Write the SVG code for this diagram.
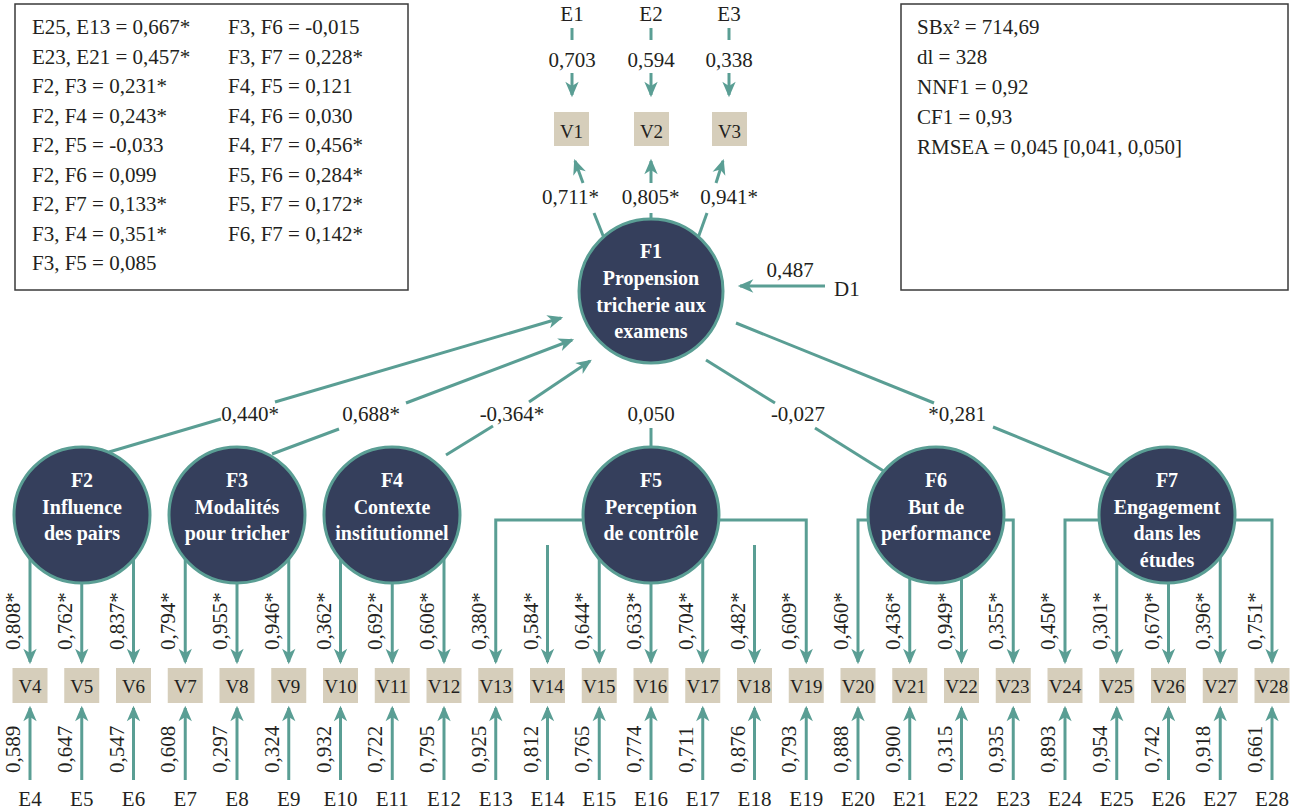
<svg xmlns="http://www.w3.org/2000/svg" width="1292" height="811" viewBox="0 0 1292 811" font-family="'Liberation Serif', serif">
<defs>
<style>
.ln{stroke:#5a9e94;stroke-width:3;fill:none}
.ar{marker-end:url(#ah)}
.t{font-family:'Liberation Serif', serif;font-size:21px;fill:#231f20}
.c{text-anchor:middle}
.ft{font-family:'Liberation Serif', serif;font-size:20px;font-weight:bold;fill:#ffffff;text-anchor:middle}
.box{fill:#d6cebb}
.vt{font-family:'Liberation Serif', serif;font-size:19px;fill:#231f20;text-anchor:middle}
.circ{fill:#353f5c;stroke:#5a9e94;stroke-width:3}
.frame{fill:#ffffff;stroke:#3a3a3a;stroke-width:1.5}
</style>
<marker id="ah" markerUnits="userSpaceOnUse" markerWidth="20" markerHeight="20" viewBox="-14 -8 18 16" refX="0" refY="0" orient="auto">
<path d="M2,0 L-12,-6 L-8,0 L-12,6 Z" fill="#5a9e94"/>
</marker>
</defs>
<rect width="1292" height="811" fill="#ffffff"/>

<g id="stats-correlations">
<rect class="frame" x="15" y="4" width="393" height="286"/>
<text class="t" x="32" y="34">E25, E13 = 0,667*</text>
<text class="t" x="32" y="63.5">E23, E21 = 0,457*</text>
<text class="t" x="32" y="93">F2, F3 = 0,231*</text>
<text class="t" x="32" y="122.5">F2, F4 = 0,243*</text>
<text class="t" x="32" y="152">F2, F5 = -0,033</text>
<text class="t" x="32" y="181.5">F2, F6 = 0,099</text>
<text class="t" x="32" y="211">F2, F7 = 0,133*</text>
<text class="t" x="32" y="240.5">F3, F4 = 0,351*</text>
<text class="t" x="32" y="270">F3, F5 = 0,085</text>
<text class="t" x="228" y="34">F3, F6 = -0,015</text>
<text class="t" x="228" y="63.5">F3, F7 = 0,228*</text>
<text class="t" x="228" y="93">F4, F5 = 0,121</text>
<text class="t" x="228" y="122.5">F4, F6 = 0,030</text>
<text class="t" x="228" y="152">F4, F7 = 0,456*</text>
<text class="t" x="228" y="181.5">F5, F6 = 0,284*</text>
<text class="t" x="228" y="211">F5, F7 = 0,172*</text>
<text class="t" x="228" y="240.5">F6, F7 = 0,142*</text>
</g>

<g id="stats-fit">
<rect class="frame" x="901" y="4" width="387" height="286"/>
<text class="t" x="917" y="34">SBx² = 714,69</text>
<text class="t" x="917" y="64">dl = 328</text>
<text class="t" x="917" y="94">NNF1 = 0,92</text>
<text class="t" x="917" y="124">CF1 = 0,93</text>
<text class="t" x="917" y="154">RMSEA = 0,045 [0,041, 0,050]</text>
</g>

<g id="connectors">
<line class="ln" x1="572" y1="28" x2="572" y2="40"/>
<line class="ln ar" x1="572" y1="73" x2="572" y2="95"/>
<line class="ln" x1="651" y1="28" x2="651" y2="40"/>
<line class="ln ar" x1="651" y1="73" x2="651" y2="95"/>
<line class="ln" x1="729" y1="28" x2="729" y2="40"/>
<line class="ln ar" x1="729" y1="73" x2="729" y2="95"/>
<line class="ln" x1="604" y1="238" x2="594" y2="213"/>
<line class="ln ar" x1="583" y1="183" x2="575" y2="161"/>
<line class="ln" x1="651" y1="225" x2="651" y2="213"/>
<line class="ln ar" x1="651" y1="183" x2="651" y2="161"/>
<line class="ln" x1="698" y1="238" x2="707" y2="213"/>
<line class="ln ar" x1="716" y1="183" x2="723" y2="161"/>
<line class="ln ar" x1="825" y1="286" x2="740" y2="286"/>
<line class="ln" x1="109" y1="452" x2="221" y2="419"/>
<line class="ln ar" x1="275" y1="402" x2="561" y2="318"/>
<line class="ln" x1="272" y1="454" x2="339" y2="429"/>
<line class="ln ar" x1="406" y1="403" x2="572" y2="340"/>
<line class="ln" x1="446" y1="455" x2="493" y2="426"/>
<line class="ln ar" x1="529" y1="402" x2="590" y2="361"/>
<line class="ln" x1="651" y1="428" x2="651" y2="449"/>
<line class="ln" x1="706" y1="360" x2="775" y2="403"/>
<line class="ln" x1="815" y1="428" x2="890" y2="475"/>
<line class="ln" x1="736" y1="323" x2="934" y2="403"/>
<line class="ln" x1="993" y1="427" x2="1115" y2="477"/>
<line class="ln ar" x1="30" y1="515" x2="30" y2="662"/>
<line class="ln ar" x1="81.75" y1="515" x2="81.75" y2="662"/>
<line class="ln ar" x1="133.5" y1="515" x2="133.5" y2="662"/>
<line class="ln ar" x1="185.25" y1="515" x2="185.25" y2="662"/>
<line class="ln ar" x1="237" y1="515" x2="237" y2="662"/>
<line class="ln ar" x1="288.75" y1="515" x2="288.75" y2="662"/>
<line class="ln ar" x1="340.5" y1="515" x2="340.5" y2="662"/>
<line class="ln ar" x1="392.25" y1="515" x2="392.25" y2="662"/>
<line class="ln ar" x1="444" y1="515" x2="444" y2="662"/>
<path class="ln ar" d="M620,520 H495.75 V662"/>
<line class="ln ar" x1="547.5" y1="545" x2="547.5" y2="662"/>
<line class="ln ar" x1="599.25" y1="515" x2="599.25" y2="662"/>
<line class="ln ar" x1="651" y1="515" x2="651" y2="662"/>
<line class="ln ar" x1="702.75" y1="515" x2="702.75" y2="662"/>
<line class="ln ar" x1="754.5" y1="545" x2="754.5" y2="662"/>
<path class="ln ar" d="M680,520 H806.25 V662"/>
<path class="ln ar" d="M900,520 H858 V662"/>
<line class="ln ar" x1="909.75" y1="515" x2="909.75" y2="662"/>
<line class="ln ar" x1="961.5" y1="515" x2="961.5" y2="662"/>
<path class="ln ar" d="M970,520 H1013.25 V662"/>
<path class="ln ar" d="M1130,520 H1065 V662"/>
<line class="ln ar" x1="1116.75" y1="515" x2="1116.75" y2="662"/>
<line class="ln ar" x1="1168.5" y1="515" x2="1168.5" y2="662"/>
<line class="ln ar" x1="1220.25" y1="515" x2="1220.25" y2="662"/>
<path class="ln ar" d="M1200,520 H1272 V662"/>
<line class="ln ar" x1="30" y1="780" x2="30" y2="708"/>
<line class="ln ar" x1="81.75" y1="780" x2="81.75" y2="708"/>
<line class="ln ar" x1="133.5" y1="780" x2="133.5" y2="708"/>
<line class="ln ar" x1="185.25" y1="780" x2="185.25" y2="708"/>
<line class="ln ar" x1="237" y1="780" x2="237" y2="708"/>
<line class="ln ar" x1="288.75" y1="780" x2="288.75" y2="708"/>
<line class="ln ar" x1="340.5" y1="780" x2="340.5" y2="708"/>
<line class="ln ar" x1="392.25" y1="780" x2="392.25" y2="708"/>
<line class="ln ar" x1="444" y1="780" x2="444" y2="708"/>
<line class="ln ar" x1="495.75" y1="780" x2="495.75" y2="708"/>
<line class="ln ar" x1="547.5" y1="780" x2="547.5" y2="708"/>
<line class="ln ar" x1="599.25" y1="780" x2="599.25" y2="708"/>
<line class="ln ar" x1="651" y1="780" x2="651" y2="708"/>
<line class="ln ar" x1="702.75" y1="780" x2="702.75" y2="708"/>
<line class="ln ar" x1="754.5" y1="780" x2="754.5" y2="708"/>
<line class="ln ar" x1="806.25" y1="780" x2="806.25" y2="708"/>
<line class="ln ar" x1="858" y1="780" x2="858" y2="708"/>
<line class="ln ar" x1="909.75" y1="780" x2="909.75" y2="708"/>
<line class="ln ar" x1="961.5" y1="780" x2="961.5" y2="708"/>
<line class="ln ar" x1="1013.25" y1="780" x2="1013.25" y2="708"/>
<line class="ln ar" x1="1065" y1="780" x2="1065" y2="708"/>
<line class="ln ar" x1="1116.75" y1="780" x2="1116.75" y2="708"/>
<line class="ln ar" x1="1168.5" y1="780" x2="1168.5" y2="708"/>
<line class="ln ar" x1="1220.25" y1="780" x2="1220.25" y2="708"/>
<line class="ln ar" x1="1272" y1="780" x2="1272" y2="708"/>
</g>

<g id="connector-labels">
<text class="t c" x="572" y="67">0,703</text>
<text class="t c" x="651" y="67">0,594</text>
<text class="t c" x="729" y="67">0,338</text>
<text class="t c" x="570.5" y="204">0,711*</text>
<text class="t c" x="650.5" y="204">0,805*</text>
<text class="t c" x="729" y="204">0,941*</text>
<text class="t c" x="790" y="277">0,487</text>
<text class="t c" x="250" y="421">0,440*</text>
<text class="t c" x="371" y="421">0,688*</text>
<text class="t c" x="512" y="421">-0,364*</text>
<text class="t c" x="651" y="421">0,050</text>
<text class="t c" x="798" y="421">-0,027</text>
<text class="t c" x="957" y="421">*0,281</text>
<text class="t" transform="translate(20,650) rotate(-90)">0,808*</text>
<text class="t" transform="translate(71.75,650) rotate(-90)">0,762*</text>
<text class="t" transform="translate(123.5,650) rotate(-90)">0,837*</text>
<text class="t" transform="translate(175.25,650) rotate(-90)">0,794*</text>
<text class="t" transform="translate(227,650) rotate(-90)">0,955*</text>
<text class="t" transform="translate(278.75,650) rotate(-90)">0,946*</text>
<text class="t" transform="translate(330.5,650) rotate(-90)">0,362*</text>
<text class="t" transform="translate(382.25,650) rotate(-90)">0,692*</text>
<text class="t" transform="translate(434,650) rotate(-90)">0,606*</text>
<text class="t" transform="translate(485.75,650) rotate(-90)">0,380*</text>
<text class="t" transform="translate(537.5,650) rotate(-90)">0,584*</text>
<text class="t" transform="translate(589.25,650) rotate(-90)">0,644*</text>
<text class="t" transform="translate(641,650) rotate(-90)">0,633*</text>
<text class="t" transform="translate(692.75,650) rotate(-90)">0,704*</text>
<text class="t" transform="translate(744.5,650) rotate(-90)">0,482*</text>
<text class="t" transform="translate(796.25,650) rotate(-90)">0,609*</text>
<text class="t" transform="translate(848,650) rotate(-90)">0,460*</text>
<text class="t" transform="translate(899.75,650) rotate(-90)">0,436*</text>
<text class="t" transform="translate(951.5,650) rotate(-90)">0,949*</text>
<text class="t" transform="translate(1003.25,650) rotate(-90)">0,355*</text>
<text class="t" transform="translate(1055,650) rotate(-90)">0,450*</text>
<text class="t" transform="translate(1106.75,650) rotate(-90)">0,301*</text>
<text class="t" transform="translate(1158.5,650) rotate(-90)">0,670*</text>
<text class="t" transform="translate(1210.25,650) rotate(-90)">0,396*</text>
<text class="t" transform="translate(1262,650) rotate(-90)">0,751*</text>
<text class="t" transform="translate(20,773) rotate(-90)">0,589</text>
<text class="t" transform="translate(71.75,773) rotate(-90)">0,647</text>
<text class="t" transform="translate(123.5,773) rotate(-90)">0,547</text>
<text class="t" transform="translate(175.25,773) rotate(-90)">0,608</text>
<text class="t" transform="translate(227,773) rotate(-90)">0,297</text>
<text class="t" transform="translate(278.75,773) rotate(-90)">0,324</text>
<text class="t" transform="translate(330.5,773) rotate(-90)">0,932</text>
<text class="t" transform="translate(382.25,773) rotate(-90)">0,722</text>
<text class="t" transform="translate(434,773) rotate(-90)">0,795</text>
<text class="t" transform="translate(485.75,773) rotate(-90)">0,925</text>
<text class="t" transform="translate(537.5,773) rotate(-90)">0,812</text>
<text class="t" transform="translate(589.25,773) rotate(-90)">0,765</text>
<text class="t" transform="translate(641,773) rotate(-90)">0,774</text>
<text class="t" transform="translate(692.75,773) rotate(-90)">0,711</text>
<text class="t" transform="translate(744.5,773) rotate(-90)">0,876</text>
<text class="t" transform="translate(796.25,773) rotate(-90)">0,793</text>
<text class="t" transform="translate(848,773) rotate(-90)">0,888</text>
<text class="t" transform="translate(899.75,773) rotate(-90)">0,900</text>
<text class="t" transform="translate(951.5,773) rotate(-90)">0,315</text>
<text class="t" transform="translate(1003.25,773) rotate(-90)">0,935</text>
<text class="t" transform="translate(1055,773) rotate(-90)">0,893</text>
<text class="t" transform="translate(1106.75,773) rotate(-90)">0,954</text>
<text class="t" transform="translate(1158.5,773) rotate(-90)">0,742</text>
<text class="t" transform="translate(1210.25,773) rotate(-90)">0,918</text>
<text class="t" transform="translate(1262,773) rotate(-90)">0,661</text>
</g>

<g id="F1"><circle class="circ" cx="651" cy="291" r="72"/>
<text class="ft" x="651" y="258">F1</text><text class="ft" x="651" y="285">Propension</text><text class="ft" x="651" y="312">tricherie aux</text><text class="ft" x="651" y="338">examens</text></g>
<g id="F2"><circle class="circ" cx="82" cy="515" r="68"/>
<text class="ft" x="82" y="487">F2</text><text class="ft" x="82" y="514">Influence</text><text class="ft" x="82" y="540">des pairs</text></g>
<g id="F3"><circle class="circ" cx="237" cy="515" r="68"/>
<text class="ft" x="237" y="487">F3</text><text class="ft" x="237" y="514">Modalités</text><text class="ft" x="237" y="540">pour tricher</text></g>
<g id="F4"><circle class="circ" cx="392" cy="515" r="68"/>
<text class="ft" x="392" y="487">F4</text><text class="ft" x="392" y="514">Contexte</text><text class="ft" x="392" y="540">institutionnel</text></g>
<g id="F5"><circle class="circ" cx="651" cy="515" r="68"/>
<text class="ft" x="651" y="487">F5</text><text class="ft" x="651" y="514">Perception</text><text class="ft" x="651" y="540">de contrôle</text></g>
<g id="F6"><circle class="circ" cx="936" cy="515" r="68"/>
<text class="ft" x="936" y="487">F6</text><text class="ft" x="936" y="514">But de</text><text class="ft" x="936" y="540">performance</text></g>
<g id="F7"><circle class="circ" cx="1167" cy="515" r="68"/>
<text class="ft" x="1167" y="487">F7</text><text class="ft" x="1167" y="514">Engagement</text><text class="ft" x="1167" y="540">dans les</text><text class="ft" x="1167" y="567">études</text></g>

<g id="D1"><text class="t" x="834" y="296">D1</text></g>
<g id="E1"><text class="t c" x="572" y="21">E1</text></g>
<g id="E2"><text class="t c" x="651" y="21">E2</text></g>
<g id="E3"><text class="t c" x="729" y="21">E3</text></g>
<g id="V1"><rect class="box" x="554" y="112" width="35" height="34"/><text class="vt" x="571.5" y="138">V1</text></g>
<g id="V2"><rect class="box" x="634" y="112" width="35" height="34"/><text class="vt" x="651.5" y="138">V2</text></g>
<g id="V3"><rect class="box" x="712" y="112" width="35" height="34"/><text class="vt" x="729.5" y="138">V3</text></g>

<g id="V4"><rect class="box" x="12.5" y="668" width="35" height="35"/><text class="vt" x="30" y="693">V4</text></g>
<g id="V5"><rect class="box" x="64.25" y="668" width="35" height="35"/><text class="vt" x="81.75" y="693">V5</text></g>
<g id="V6"><rect class="box" x="116" y="668" width="35" height="35"/><text class="vt" x="133.5" y="693">V6</text></g>
<g id="V7"><rect class="box" x="167.75" y="668" width="35" height="35"/><text class="vt" x="185.25" y="693">V7</text></g>
<g id="V8"><rect class="box" x="219.5" y="668" width="35" height="35"/><text class="vt" x="237" y="693">V8</text></g>
<g id="V9"><rect class="box" x="271.25" y="668" width="35" height="35"/><text class="vt" x="288.75" y="693">V9</text></g>
<g id="V10"><rect class="box" x="323" y="668" width="35" height="35"/><text class="vt" x="340.5" y="693">V10</text></g>
<g id="V11"><rect class="box" x="374.75" y="668" width="35" height="35"/><text class="vt" x="392.25" y="693">V11</text></g>
<g id="V12"><rect class="box" x="426.5" y="668" width="35" height="35"/><text class="vt" x="444" y="693">V12</text></g>
<g id="V13"><rect class="box" x="478.25" y="668" width="35" height="35"/><text class="vt" x="495.75" y="693">V13</text></g>
<g id="V14"><rect class="box" x="530" y="668" width="35" height="35"/><text class="vt" x="547.5" y="693">V14</text></g>
<g id="V15"><rect class="box" x="581.75" y="668" width="35" height="35"/><text class="vt" x="599.25" y="693">V15</text></g>
<g id="V16"><rect class="box" x="633.5" y="668" width="35" height="35"/><text class="vt" x="651" y="693">V16</text></g>
<g id="V17"><rect class="box" x="685.25" y="668" width="35" height="35"/><text class="vt" x="702.75" y="693">V17</text></g>
<g id="V18"><rect class="box" x="737" y="668" width="35" height="35"/><text class="vt" x="754.5" y="693">V18</text></g>
<g id="V19"><rect class="box" x="788.75" y="668" width="35" height="35"/><text class="vt" x="806.25" y="693">V19</text></g>
<g id="V20"><rect class="box" x="840.5" y="668" width="35" height="35"/><text class="vt" x="858" y="693">V20</text></g>
<g id="V21"><rect class="box" x="892.25" y="668" width="35" height="35"/><text class="vt" x="909.75" y="693">V21</text></g>
<g id="V22"><rect class="box" x="944" y="668" width="35" height="35"/><text class="vt" x="961.5" y="693">V22</text></g>
<g id="V23"><rect class="box" x="995.75" y="668" width="35" height="35"/><text class="vt" x="1013.25" y="693">V23</text></g>
<g id="V24"><rect class="box" x="1047.5" y="668" width="35" height="35"/><text class="vt" x="1065" y="693">V24</text></g>
<g id="V25"><rect class="box" x="1099.25" y="668" width="35" height="35"/><text class="vt" x="1116.75" y="693">V25</text></g>
<g id="V26"><rect class="box" x="1151" y="668" width="35" height="35"/><text class="vt" x="1168.5" y="693">V26</text></g>
<g id="V27"><rect class="box" x="1202.75" y="668" width="35" height="35"/><text class="vt" x="1220.25" y="693">V27</text></g>
<g id="V28"><rect class="box" x="1254.5" y="668" width="35" height="35"/><text class="vt" x="1272" y="693">V28</text></g>

<g id="E4"><text class="t c" x="30" y="806">E4</text></g>
<g id="E5"><text class="t c" x="81.75" y="806">E5</text></g>
<g id="E6"><text class="t c" x="133.5" y="806">E6</text></g>
<g id="E7"><text class="t c" x="185.25" y="806">E7</text></g>
<g id="E8"><text class="t c" x="237" y="806">E8</text></g>
<g id="E9"><text class="t c" x="288.75" y="806">E9</text></g>
<g id="E10"><text class="t c" x="340.5" y="806">E10</text></g>
<g id="E11"><text class="t c" x="392.25" y="806">E11</text></g>
<g id="E12"><text class="t c" x="444" y="806">E12</text></g>
<g id="E13"><text class="t c" x="495.75" y="806">E13</text></g>
<g id="E14"><text class="t c" x="547.5" y="806">E14</text></g>
<g id="E15"><text class="t c" x="599.25" y="806">E15</text></g>
<g id="E16"><text class="t c" x="651" y="806">E16</text></g>
<g id="E17"><text class="t c" x="702.75" y="806">E17</text></g>
<g id="E18"><text class="t c" x="754.5" y="806">E18</text></g>
<g id="E19"><text class="t c" x="806.25" y="806">E19</text></g>
<g id="E20"><text class="t c" x="858" y="806">E20</text></g>
<g id="E21"><text class="t c" x="909.75" y="806">E21</text></g>
<g id="E22"><text class="t c" x="961.5" y="806">E22</text></g>
<g id="E23"><text class="t c" x="1013.25" y="806">E23</text></g>
<g id="E24"><text class="t c" x="1065" y="806">E24</text></g>
<g id="E25"><text class="t c" x="1116.75" y="806">E25</text></g>
<g id="E26"><text class="t c" x="1168.5" y="806">E26</text></g>
<g id="E27"><text class="t c" x="1220.25" y="806">E27</text></g>
<g id="E28"><text class="t c" x="1272" y="806">E28</text></g>
</svg>
